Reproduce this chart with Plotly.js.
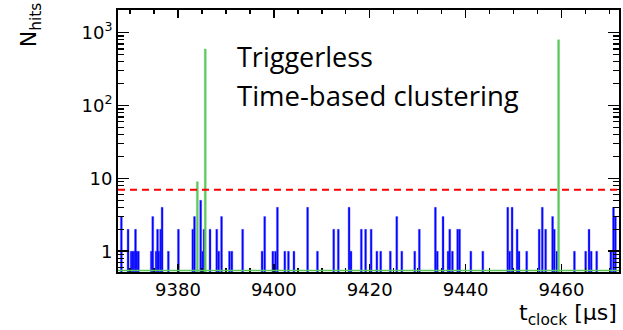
<!DOCTYPE html>
<html>
<head>
<meta charset="utf-8">
<script src="https://cdn.plot.ly/plotly-3.0.1.min.js"></script>
<style>html,body{margin:0;padding:0;background:#fff;}</style>
</head>
<body>
<div id="chart" style="width:623px;height:330px;"></div>
<script>
// Blue histogram: hit times (µs) and counts per bin
const blueTimes = [
  9368.2, 9369.6, 9370.25, 9370.55, 9370.85, 9371.15, 9371.45, 9371.75,
  9374.45, 9374.75, 9375.45, 9375.75, 9376.0, 9376.4, 9376.7, 9378.0,
  9380.1, 9383.1, 9383.45, 9384.75, 9385.15, 9385.45, 9386.7, 9388.1, 9388.5,
  9389.1, 9390.75, 9391.25, 9393.5, 9397.55, 9398.1, 9399.8, 9400.35, 9400.75,
  9402.3, 9403.05, 9404.2, 9407.05, 9409.1, 9412.5, 9413.45, 9415.7, 9416.1,
  9418.25, 9419.15, 9420.3, 9421.5, 9422.3, 9424.3, 9425.65, 9426.7, 9429.4,
  9430.35, 9433.7, 9434.1, 9435.3, 9436.35, 9436.7, 9437.25, 9438.35, 9438.75,
  9441.1, 9443.6, 9448.8, 9449.2, 9449.7, 9450.75, 9451.15, 9452.75, 9455.35,
  9456.0, 9456.7, 9458.15, 9458.5, 9459.05, 9462.7, 9465.05, 9465.75, 9466.2,
  9467.35, 9470.3, 9470.85, 9471.25
];
const blueCounts = [
  3, 2, 1, 1, 1, 2, 1, 1,
  1, 3, 1, 2, 1, 2, 4, 1,
  2, 2, 3, 5, 1, 2, 2, 2, 1,
  3, 1, 1, 2, 1, 3, 1, 1, 4,
  1, 1, 1, 4, 1, 2, 2, 4, 1,
  2, 2, 2, 1, 1, 1, 3, 1, 1,
  2, 4, 1, 3, 1, 2, 1, 2, 2,
  1, 1, 4, 1, 4, 2, 1, 1, 2,
  4, 2, 3, 2, 1, 1, 1, 2, 1,
  1, 1, 4, 3
];
// Green histogram: clusters found by time-based clustering
const greenTimes = [9384.05, 9385.7, 9459.4];
const greenCounts = [9, 595, 795];
// Threshold (red dashed)
const threshold = 7;
// Axis ticks
const xTickVals = [9380, 9400, 9420, 9440, 9460];
const xTickText = ['9380', '9400', '9420', '9440', '9460'];
const yTickVals = [1, 10, 100, 1000];
const yTickText = ['1', '10', '10<sup>2</sup>', '10<sup>3</sup>'];

const tickFont = {family: 'DejaVu Sans, Arial, sans-serif', size: 18, color: '#000'};

const traces = [
  {
    type: 'bar', x: blueTimes, y: blueCounts, width: 0.4,
    marker: {color: '#0000ff', line: {color: 'rgba(70,70,255,0.6)', width: 0.6}},
    hoverinfo: 'skip', showlegend: false
  },
  {
    type: 'bar', x: greenTimes, y: greenCounts, width: 0.42,
    marker: {color: '#5cc85c', line: {color: 'rgba(110,205,110,0.7)', width: 0.6}},
    hoverinfo: 'skip', showlegend: false
  }
];

const layout = {
  width: 623, height: 330,
  margin: {l: 118, r: 4, t: 10, b: 58},
  paper_bgcolor: '#fff', plot_bgcolor: '#fff',
  barmode: 'overlay', bargap: 0,
  xaxis: {
    range: [9367.5, 9472], showgrid: false, zeroline: false,
    showline: true, linecolor: '#000', linewidth: 2, mirror: 'allticks',
    ticks: 'inside', ticklen: 8, tickwidth: 1.5, tickcolor: '#000',
    tickvals: xTickVals, ticktext: xTickText, tickfont: tickFont,
    minor: {ticks: 'inside', ticklen: 4, tickwidth: 1.5, tickcolor: '#000', dtick: 5, showgrid: false}
  },
  yaxis: {
    type: 'log', range: [-0.285, 3.31], showgrid: false, zeroline: false,
    showline: true, linecolor: '#000', linewidth: 2, mirror: 'allticks',
    ticks: 'inside', ticklen: 11, tickwidth: 1.5, tickcolor: '#000',
    tickvals: yTickVals, ticktext: yTickText, tickfont: tickFont,
    minor: {ticks: 'inside', ticklen: 6, tickwidth: 1.5, tickcolor: '#000', dtick: 'D1', showgrid: false}
  },
  shapes: [
    {type: 'line', xref: 'paper', x0: 0, x1: 1, yref: 'y', y0: threshold, y1: threshold,
     line: {color: '#ff0000', width: 2, dash: '7px,5px'}, layer: 'above'},
    {type: 'line', xref: 'paper', x0: 0, x1: 1, yref: 'paper', y0: 0.006, y1: 0.006,
     line: {color: '#5cc85c', width: 1.5}, layer: 'above'}
  ],
  annotations: [
    {text: 'Triggerless', xref: 'paper', yref: 'paper', x: 0.2345, y: 0.8225,
     xanchor: 'left', yanchor: 'middle', showarrow: false,
     font: {family: 'Open Sans, sans-serif', size: 27, color: '#000'}},
    {text: 'Time-based clustering', xref: 'paper', yref: 'paper', x: 0.2345, y: 0.673,
     xanchor: 'left', yanchor: 'middle', showarrow: false,
     font: {family: 'Open Sans, sans-serif', size: 27.5, color: '#000'}},
    {text: 'N<sub>hits</sub>', xref: 'paper', yref: 'paper', x: -0.174, y: 0.945,
     xanchor: 'center', yanchor: 'middle', textangle: -90, showarrow: false,
     font: {family: 'DejaVu Sans, Arial, sans-serif', size: 22, color: '#000'}},
    {text: 't<sub>clock</sub> [μs]', xref: 'paper', yref: 'paper', x: 1.0, y: -0.099,
     xanchor: 'right', yanchor: 'top', showarrow: false,
     font: {family: 'DejaVu Sans, Arial, sans-serif', size: 22, color: '#000'}}
  ]
};

Plotly.newPlot('chart', traces, layout, {staticPlot: true, displayModeBar: false});
</script>
</body>
</html>
